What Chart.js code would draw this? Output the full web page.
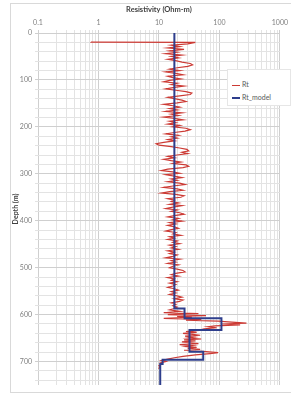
<!DOCTYPE html>
<html lang="en">
  <head>
    <meta charset="UTF-8" />
    <title>Resistivity</title>
    <script src="https://cdn.jsdelivr.net/npm/chart.js@4.4.1/dist/chart.umd.min.js"></script>
    <style>
      body {
        margin: 0;
        background: #fff;
      }

      .wrap {
        position: relative;
        width: 291px;
        height: 394px;
      }

      .frame {
        position: absolute;
        left: 10px;
        top: 3px;
        width: 290px;
        height: 388px;
        border: 1px solid #d9d9d9;
        pointer-events: none;
      }

      .legend {
        position: absolute;
        left: 227px;
        top: 69px;
        width: 62px;
        height: 35px;
        background: #fff;
        border: 1px solid #e6e6e6;
        font-family: Lato, sans-serif;
        font-size: 7px;
        color: #595959;
      }

      .legend .item {
        position: absolute;
        left: 4px;
        height: 8px;
        line-height: 8px;
        white-space: nowrap;
      }

      .legend .swatch {
        display: inline-block;
        width: 8px;
        vertical-align: middle;
        margin-right: 2px;
      }
    </style>
  </head>
  <body>
    <div class="wrap">
      <canvas id="chart" width="291" height="394"></canvas>
      <div class="frame"></div>
      <div class="legend">
        <div class="item" style="top: 10px">
          <span class="swatch" style="border-top: 1px solid #cc3a34"></span>Rt
        </div>
        <div class="item" style="top: 23px">
          <span class="swatch" style="border-top: 2px solid #2e3e8c"></span>Rt_model
        </div>
      </div>
    </div>
    <script>
      // measured log (depth in m, resistivity in ohm-m)
      let rtDepth = [
        19, 19.5, 20, 23, 26, 29, 32, 35, 38, 41, 44, 47, 50, 53, 56, 59, 62, 65, 68, 71,
        74, 77, 80, 83, 86, 89, 92, 95, 98, 101, 104, 107, 110, 113, 116, 119, 122, 125, 128, 131,
        134, 137, 140, 143, 146, 149, 152, 155, 158, 161, 164, 167, 170, 173, 176, 179, 182, 185, 188, 191,
        194, 197, 200, 203, 206, 209, 212, 215, 218, 221, 224, 227, 230, 233, 236, 239, 242, 245, 248, 251,
        254, 257, 260, 263, 266, 269, 272, 275, 278, 281, 284, 287, 290, 293, 296, 299, 302, 305, 308, 311,
        314, 317, 320, 323, 326, 329, 332, 335, 338, 341, 344, 347, 350, 353, 356, 359, 362, 365, 368, 371,
        374, 377, 380, 383, 386, 389, 392, 395, 398, 401, 404, 407, 410, 413, 416, 419, 422, 425, 428, 431,
        434, 437, 440, 443, 446, 449, 452, 455, 458, 461, 464, 467, 470, 473, 476, 479, 482, 485, 488, 491,
        494, 497, 500, 503, 506, 509, 512, 515, 518, 521, 524, 527, 530, 533, 536, 539, 542, 545, 548, 551,
        554, 557, 560, 563, 566, 569, 572, 575, 578, 581, 584, 587, 590, 593, 596, 598, 600, 602, 604, 606,
        608, 610, 612, 614, 616, 618, 620, 622, 624, 626, 628, 630, 632, 634, 636, 638, 640, 642, 644, 646,
        648, 650, 652, 654, 656, 658, 660, 662, 664, 666, 668, 670, 672, 674, 676, 679, 681, 683, 686, 689,
        692, 695, 698, 700, 703, 706, 709, 712, 715
      ];
      let rtValue = [
        0.75, 0.75, 40, 30, 16, 22, 14, 26, 15, 20, 13, 24, 16, 21, 14, 19, 24, 33, 36, 30,
        20, 15, 22, 13, 19, 25, 14, 17, 23, 15, 12, 20, 16, 26, 18, 13, 19, 28, 35, 33,
        22, 14, 18, 24, 28, 20, 12, 17, 22, 15, 20, 13, 24, 16, 21, 12, 18, 25, 15, 19,
        14, 22, 17, 28, 33, 27, 18, 13, 21, 16, 20, 14, 18, 12, 9, 10, 16, 22, 29, 31,
        24, 30, 20, 14, 18, 12, 16, 23, 17, 28, 31, 25, 14, 11, 17, 22, 13, 18, 24, 16,
        20, 14, 22, 27, 17, 12, 20, 25, 15, 11, 19, 26, 23, 14, 18, 16, 21, 15, 24, 17,
        13, 20, 16, 22, 26, 18, 14, 21, 17, 24, 15, 19, 14, 18, 21, 16, 13, 19, 17, 23,
        15, 18, 14, 20, 17, 22, 15, 19, 16, 21, 14, 18, 15, 20, 17, 13, 22, 16, 19, 14,
        21, 17, 15, 20, 25, 27, 19, 16, 21, 14, 18, 16, 20, 15, 19, 17, 14, 18, 21, 16,
        19, 15, 20, 24, 18, 25, 22, 16, 19, 17, 20, 18, 15, 22, 12, 45, 14, 60, 20, 35,
        12, 50, 28, 95, 160, 280, 110, 220, 85, 65, 90, 60, 75, 40, 28, 42, 25, 36, 48, 27,
        38, 30, 50, 26, 40, 24, 33, 45, 22, 36, 28, 42, 30, 48, 26, 60, 95, 70, 40, 25,
        18, 14, 11, 13, 10.5, 11, 10, 10.5, 9.8
      ];

      // layered model: value holds from each top depth down to the next one
      let modelTop = [0, 587, 608, 633, 679, 696, 705, 750];
      let modelValue = [18, 26.5, 108, 32, 54, 11.5, 10.5, 10.5];

      let xTicks = [0.1, 1, 10, 100, 1000];
      let depthLabels = [0, 100, 200, 300, 400, 500, 600, 700];

      let toPoints = (xs, ys) => xs.map((v, i) => ({ x: v, y: ys[i] }));

      let fontFamily = 'Lato, sans-serif';

      new Chart(document.getElementById('chart'), {
        type: 'scatter',
        data: {
          datasets: [
            {
              label: 'Rt_model',
              data: toPoints(modelValue, modelTop),
              showLine: true,
              stepped: 'after',
              borderColor: '#2e3e8c',
              borderWidth: 2,
              pointRadius: 0,
              order: 0
            },
            {
              label: 'Rt',
              data: toPoints(rtValue, rtDepth),
              showLine: true,
              borderColor: '#cc3a34',
              borderWidth: 1.2,
              pointRadius: 0,
              order: 1
            }
          ]
        },
        options: {
          responsive: false,
          animation: false,
          layout: { padding: { left: 10, right: 5, top: 4, bottom: 9 } },
          plugins: {
            legend: { display: false },
            tooltip: { enabled: false }
          },
          scales: {
            x: {
              type: 'logarithmic',
              position: 'top',
              min: 0.1,
              max: 1000,
              afterBuildTicks: scale => {
                let ticks = [];
                for (let d = 0; d < xTicks.length - 1; d++) {
                  for (let k = 1; k < 10; k++) {
                    ticks.push({ value: +(xTicks[d] * k).toPrecision(3) });
                  }
                }
                ticks.push({ value: xTicks[xTicks.length - 1] });
                scale.ticks = ticks;
              },
              afterFit: scale => {
                scale.height = 29;
              },
              grid: {
                color: ctx => (ctx.tick && xTicks.includes(ctx.tick.value) ? '#cfcfcf' : '#e3e3e3'),
                tickLength: 3
              },
              border: { display: false },
              ticks: {
                autoSkip: false,
                maxRotation: 0,
                padding: 3,
                color: '#7f7f7f',
                font: { family: fontFamily, size: 7 },
                callback: v => (xTicks.includes(v) ? String(v) : '')
              },
              title: {
                display: true,
                text: 'Resistivity (Ohm-m)',
                color: '#404040',
                padding: { top: 1, bottom: 0 },
                font: { family: fontFamily, size: 7.5, weight: 'bold' }
              }
            },
            y: {
              type: 'linear',
              reverse: true,
              min: 0,
              max: 750,
              afterBuildTicks: scale => {
                let ticks = [];
                for (let v = 0; v < 750; v += 20) ticks.push({ value: v });
                scale.ticks = ticks;
              },
              afterFit: scale => {
                scale.width = 28;
              },
              grid: {
                color: ctx => (ctx.tick && depthLabels.includes(ctx.tick.value) ? '#cfcfcf' : '#e3e3e3'),
                tickLength: 3
              },
              border: { display: false },
              ticks: {
                autoSkip: false,
                padding: 3,
                color: '#7f7f7f',
                font: { family: fontFamily, size: 7 },
                callback: v => (depthLabels.includes(v) ? String(v) : '')
              },
              title: {
                display: true,
                text: 'Depth (m)',
                color: '#404040',
                padding: { top: 2, bottom: 0 },
                font: { family: fontFamily, size: 7, weight: 'bold' }
              }
            }
          }
        }
      });
    </script>
  </body>
</html>
